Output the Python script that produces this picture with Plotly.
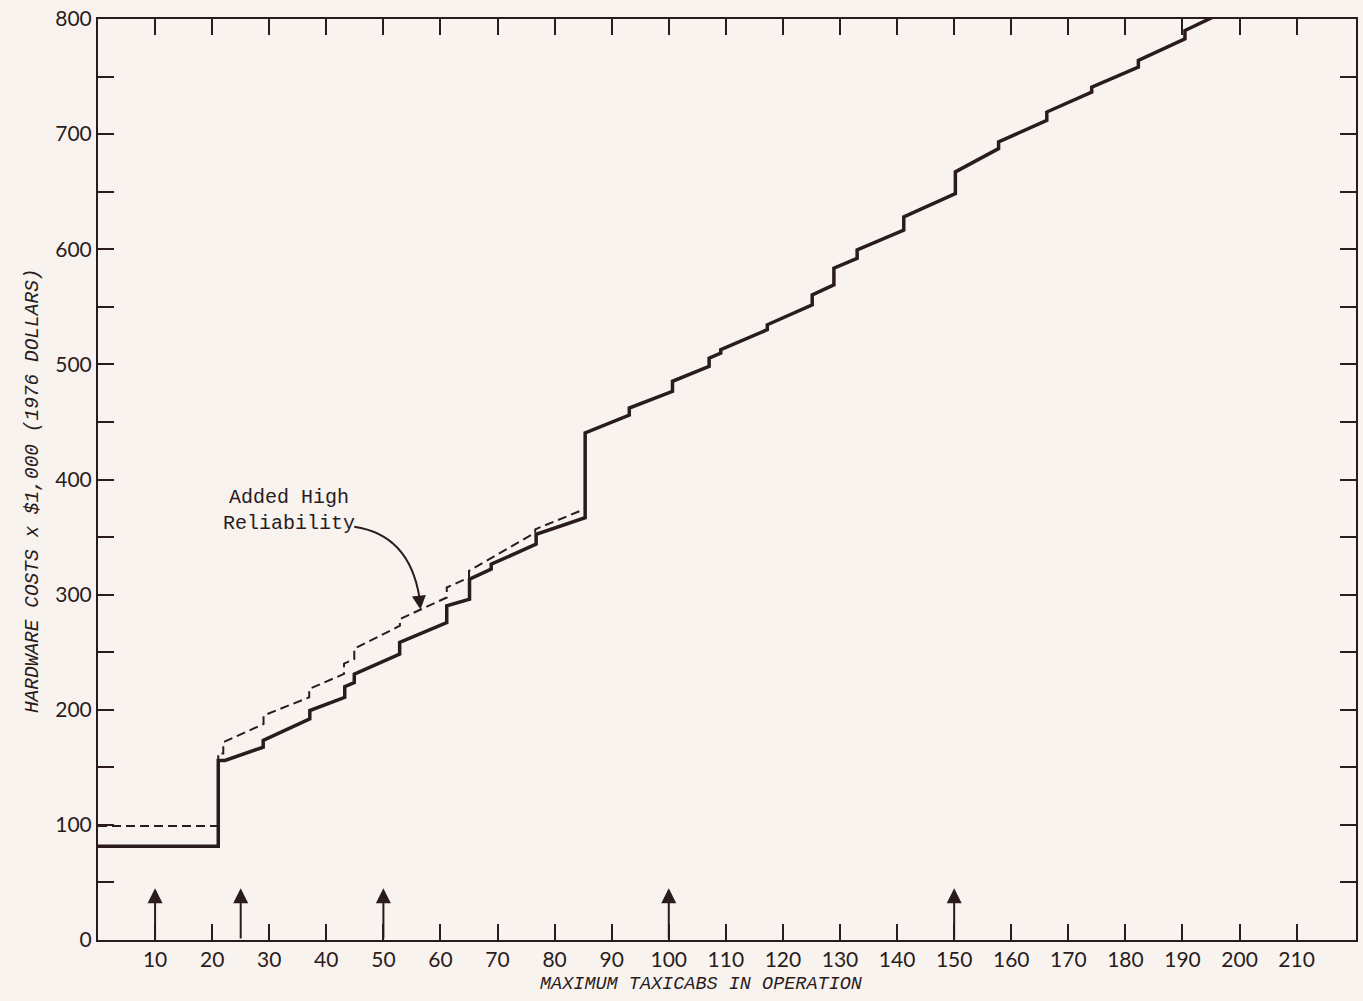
import plotly.graph_objects as go

# ---- data ----
solid_x = [0, 21.07, 21.07, 22.25, 28.94, 28.94, 37.11, 37.11, 43.23, 43.23, 44.9, 44.9,
           52.85, 52.85, 61.1, 61.1, 65.09, 65.09, 68.89, 68.89, 76.76, 76.76, 85.35, 85.35,
           93.08, 93.08, 100.65, 100.65, 107.07, 107.07, 109.11, 109.11, 117.26, 117.26,
           125.13, 125.13, 128.93, 128.93, 133.0, 133.0, 141.17, 141.17, 150.21, 150.21,
           157.78, 157.78, 166.23, 166.23, 174.10, 174.10, 182.27, 182.27, 190.43, 190.43, 195.5]
solid_y = [81.5, 81.5, 156, 156, 167.5, 173.3, 192.1, 199.3, 210.8, 220, 223.5, 231,
           248.4, 258.5, 275.8, 290.3, 296.1, 313.4, 322.1, 326.4, 343.8, 352.4, 366.8, 440.5,
           456.0, 462.1, 476.6, 485.3, 498.3, 505.5, 509.8, 512.7, 530.1, 534.4,
           551.7, 560.4, 569.1, 583.5, 592.1, 599.4, 616.7, 628.2, 648.4, 667.2,
           687.4, 693.2, 712.0, 719.2, 736.6, 740.9, 758.2, 764.0, 782.8, 790.0, 802]

dashed_x = [0, 21.07, 21.07, 21.95, 21.95, 29.0, 29.0, 37.0, 37.0, 43.1, 43.1, 44.9, 44.9,
            52.9, 52.9, 61.1, 61.1, 65.0, 65.0, 76.6, 76.6, 85.35, 85.35]
dashed_y = [99, 99, 162, 162, 171.8, 187.6, 195.0, 210.8, 218.1, 231.1, 240, 244, 253,
            273.0, 278.8, 297.5, 306.2, 314.8, 320.6, 353.8, 356.7, 374.5, 441]

arrow_x = [10, 25, 50, 100, 150]
arrow_top = 45

x_ticks = list(range(10, 211, 10))
y_ticks = list(range(0, 801, 50))
y_labels = [str(v) if v % 100 == 0 else "" for v in y_ticks]

LINE = "#2a1c1c"
BG = "#f8f3ef"
MONO = "Liberation Mono, Courier New, monospace"
SANS = "Lato, DejaVu Sans, sans-serif"

W, H = 1363, 1001
L, R, T, B = 98, 5, 17, 61
PW, PH = W - L - R, H - T - B


def px_x(p):
    return (p - L) / PW


def px_y(p):
    return (H - B - p) / PH


fig = go.Figure()
fig.add_trace(go.Scatter(x=dashed_x, y=dashed_y, mode="lines",
                         line=dict(color=LINE, width=2, dash="9px,5px"), hoverinfo="skip"))
fig.add_trace(go.Scatter(x=solid_x, y=solid_y, mode="lines",
                         line=dict(color=LINE, width=3.5), hoverinfo="skip"))

annotations = []
for ax_ in arrow_x:
    annotations.append(dict(x=ax_, y=arrow_top, ax=ax_, ay=0, xref="x", yref="y",
                            axref="x", ayref="y", text="", showarrow=True,
                            arrowhead=2, arrowsize=1.5, arrowwidth=2, arrowcolor=LINE))

# label and curved pointer
annotations.append(dict(x=px_x(289), y=px_y(510), xref="paper", yref="paper",
                        text="Added High<br>Reliability", showarrow=False, align="center",
                        xanchor="center", yanchor="middle",
                        font=dict(family=MONO, size=20, color=LINE)))
annotations.append(dict(x=56.5, y=287, ax=56.2, ay=300, xref="x", yref="y", axref="x", ayref="y",
                        text="", showarrow=True, arrowhead=2, arrowsize=1.4, arrowwidth=2,
                        arrowcolor=LINE))

# axis titles
annotations.append(dict(x=px_x(702), y=px_y(985), xref="paper", yref="paper",
                        text="<i>MAXIMUM TAXICABS IN OPERATION</i>", showarrow=False,
                        yanchor="middle", font=dict(family=MONO, size=18.5, color=LINE)))
annotations.append(dict(x=px_x(20), y=px_y(490), xref="paper", yref="paper",
                        text="<i>HARDWARE COSTS x $1,000 (1976 DOLLARS)</i>", showarrow=False,
                        textangle=-90, font=dict(family=MONO, size=19.5, color=LINE)))

fig.update_layout(
    width=W, height=H,
    margin=dict(l=L, r=R, t=T, b=B),
    paper_bgcolor=BG, plot_bgcolor=BG,
    showlegend=False,
    annotations=annotations,
    shapes=[dict(type="path", xref="x", yref="y",
                 path="M 44.9,359 Q 54.5,352 56.3,298",
                 line=dict(color=LINE, width=2))],
    xaxis=dict(range=[0, 220.4], tickvals=x_ticks, ticks="inside", ticklen=16, tickwidth=2,
               tickcolor=LINE, showline=True, linecolor=LINE, linewidth=2, mirror="ticks",
               showgrid=False, zeroline=False,
               tickfont=dict(family=SANS, size=21, color=LINE)),
    yaxis=dict(range=[0, 800], tickvals=y_ticks, ticktext=y_labels, ticks="inside", ticklen=16,
               tickwidth=2, tickcolor=LINE, showline=True, linecolor=LINE, linewidth=2,
               mirror="ticks", showgrid=False, zeroline=False,
               tickfont=dict(family=SANS, size=21, color=LINE)),
)

fig.write_html("out.html", config={"displayModeBar": False},
               post_script="document.body.style.margin='0px';"
                           "document.body.style.background='#f8f3ef';"
                           "document.body.style.overflow='hidden';")
